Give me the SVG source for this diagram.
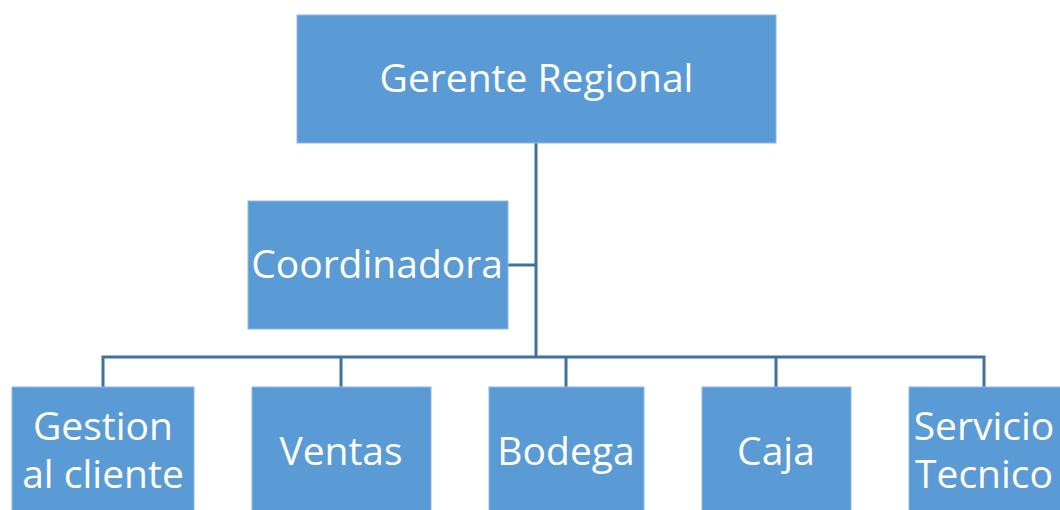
<svg xmlns="http://www.w3.org/2000/svg" width="1060" height="510" viewBox="0 0 1060 510">
<style>
.box{fill:#5B9BD5;stroke:#8DB9E3;stroke-width:1}
.lbl{font-family:"Open Sans","Noto Sans",sans-serif;font-size:39px;fill:#fff;text-anchor:middle}
.conn{fill:none;stroke:#41719C;stroke-width:3}
</style>
<rect width="1060" height="510" fill="#fff"/>
<g id="connectors">
<path class="conn" d="M536 143 V357"/>
<path class="conn" d="M508 265 H536"/>
<path class="conn" d="M103 387 V357 H984 V387"/>
<path class="conn" d="M341 357 V387"/>
<path class="conn" d="M566 357 V387"/>
<path class="conn" d="M776 357 V387"/>
</g>
<g id="gerente">
<rect class="box" x="297" y="15" width="479" height="128"/>
<text class="lbl" x="536.5" y="92">Gerente Regional</text>
</g>
<g id="coordinadora">
<rect class="box" x="248" y="201" width="260" height="128"/>
<text class="lbl" x="377" y="278">Coordinadora</text>
</g>
<g id="gestion">
<rect class="box" x="12" y="387" width="182" height="128"/>
<text class="lbl" x="103" y="440">Gestion</text>
<text class="lbl" x="103" y="488">al cliente</text>
</g>
<g id="ventas">
<rect class="box" x="252" y="387" width="179" height="128"/>
<text class="lbl" x="341" y="465">Ventas</text>
</g>
<g id="bodega">
<rect class="box" x="489" y="387" width="155" height="128"/>
<text class="lbl" x="566" y="465">Bodega</text>
</g>
<g id="caja">
<rect class="box" x="702" y="387" width="149" height="128"/>
<text class="lbl" x="776" y="465">Caja</text>
</g>
<g id="servicio">
<rect class="box" x="909" y="387" width="160" height="128"/>
<text class="lbl" x="984" y="440">Servicio</text>
<text class="lbl" x="984" y="488">Tecnico</text>
</g>
</svg>
